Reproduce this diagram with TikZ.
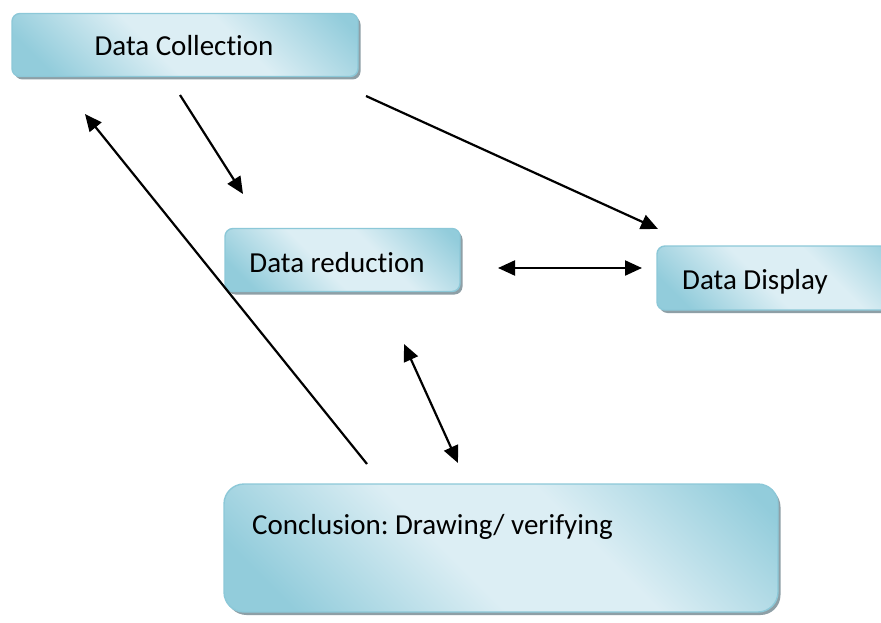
\documentclass[tikz,border=0pt]{standalone}
\usepackage{fontspec}
\setmainfont{Carlito}[Ligatures={NoCommon}]
\usetikzlibrary{arrows.meta,shadows}
\definecolor{bdark}{HTML}{92CCDB}
\definecolor{blight}{HTML}{DCEEF4}
\definecolor{bborder}{HTML}{8CC8D8}
\definecolor{bshadow}{HTML}{8E9FA6}
\pgfdeclarehorizontalshading{boxshade}{100bp}{color(0bp)=(bdark); color(22bp)=(bdark); color(44bp)=(blight); color(60bp)=(blight); color(82bp)=(bdark); color(100bp)=(bdark)}
\tikzset{
  procbox/.style={draw=bborder, line width=1.4pt, shading=boxshade, shading angle=45,
    rounded corners=8pt, inner sep=0pt,
    drop shadow={shadow xshift=2.5pt, shadow yshift=-3pt, fill=bshadow, opacity=1}},
  boxtext/.style={font=\fontsize{29}{35}\selectfont, inner sep=0pt, text=black},
  flow/.style={line width=2.2pt, -{Triangle[length=17pt,width=15pt]}},
  flowboth/.style={line width=2.2pt, {Triangle[length=17pt,width=15pt]}-{Triangle[length=17pt,width=15pt]}}
}
\begin{document}
\frenchspacing
\begin{tikzpicture}[x=1pt,y=-1pt]
\useasboundingbox (0,0) rectangle (881,623);
\clip (0,0) rectangle (881,623);
\fill[white] (0,0) rectangle (881,623);
% boxes
\node[procbox, minimum width=346pt, minimum height=63pt] (collbox) at (185,45) {};
\node[procbox, minimum width=235pt, minimum height=63pt] (redbox) at (342.5,260) {};
\node[procbox, minimum width=260pt, minimum height=64pt] (dispbox) at (787,278) {};
\node[procbox, rounded corners=20pt, minimum width=554pt, minimum height=128pt] (concbox) at (501,548) {};
% texts
\node[boxtext] (colltext) at (184,46) {Data Collection};
\node[boxtext] (redtext) at (337,263) {Data reduction};
\node[boxtext, anchor=west] (disptext) at (682,282) {Data Display};
\node[boxtext, anchor=west] (conctext) at (252,527) {Conclusion: Drawing/ verifying};
% arrow end points
\coordinate (a1s) at (180,95);
\coordinate (a1e) at (243,194);
\coordinate (a2s) at (366,96);
\coordinate (a2e) at (658,229);
\coordinate (a3s) at (367,464);
\coordinate (a3e) at (85,114);
\coordinate (a4s) at (404,344);
\coordinate (a4e) at (458,463);
\coordinate (a5s) at (498,268);
\coordinate (a5e) at (642,268);
\draw[flow] (a1s) -- (a1e);
\draw[flow] (a2s) -- (a2e);
\draw[flow] (a3s) -- (a3e);
\draw[flowboth] (a4s) -- (a4e);
\draw[flowboth] (a5s) -- (a5e);
\end{tikzpicture}
\end{document}
